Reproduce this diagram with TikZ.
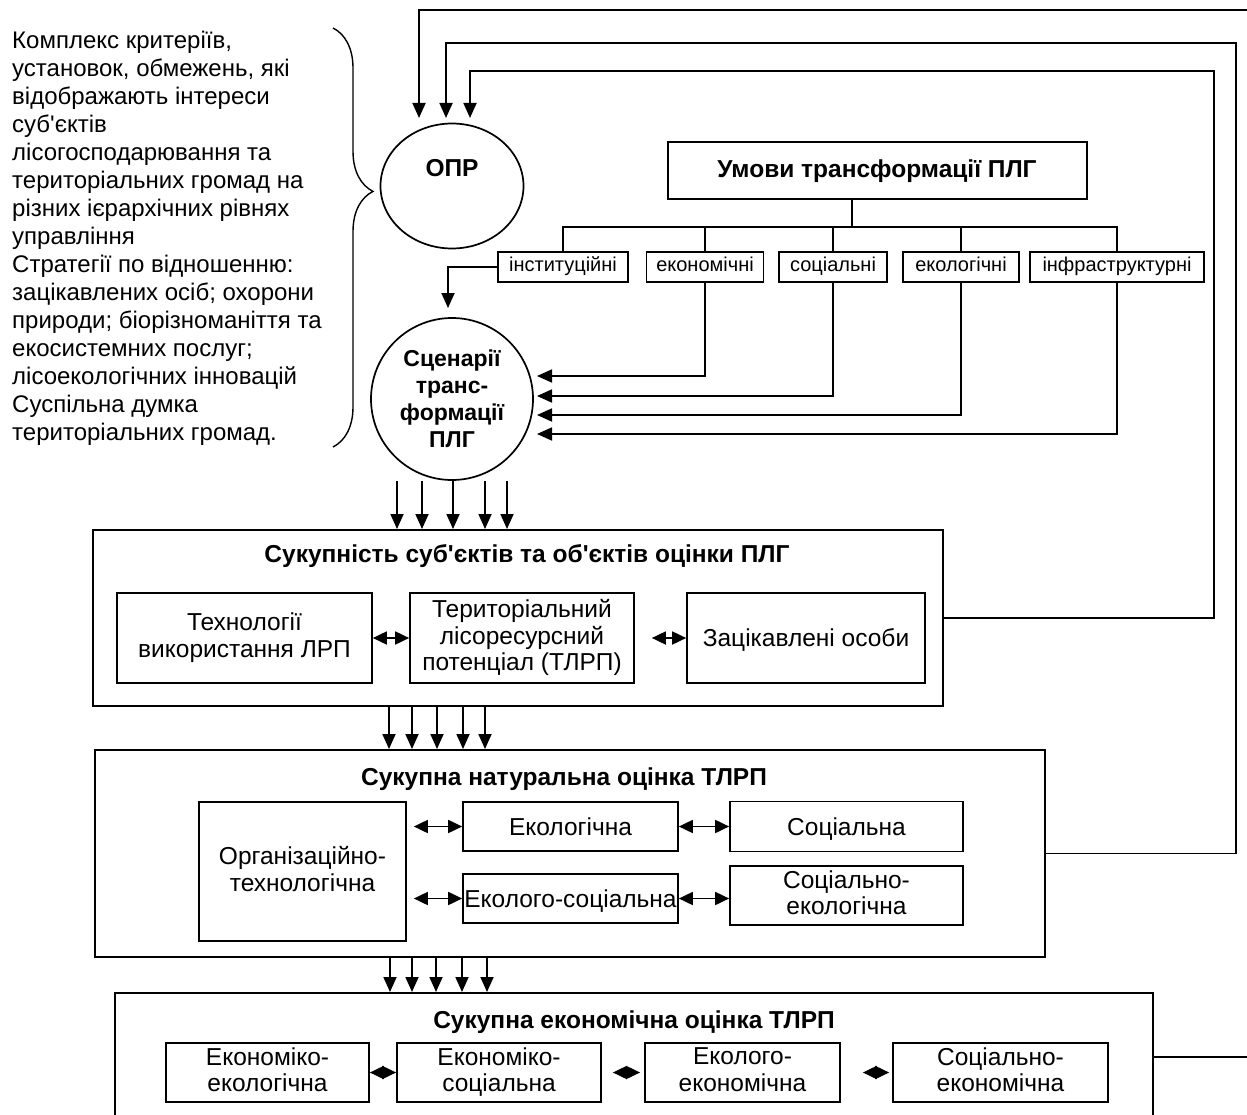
\documentclass[tikz,border=0pt]{standalone}
\usepackage{fontspec}
\setmainfont{Liberation Sans}
\usetikzlibrary{arrows.meta,positioning,shapes.geometric,decorations.pathreplacing,calc}
\newcommand{\apos}{\textquotesingle}
\newcommand{\bxstrut}{\rule[-0.23em]{0pt}{1.18em}}
\tikzset{
  >={Triangle[length=15pt,width=13pt]},
  blk/.style={draw, line width=2pt, inner sep=0pt},
  box/.style={draw, line width=1.7pt, align=center, inner sep=1pt,
              font=\fontsize{24.5}{26.5}\selectfont,
              execute at begin node=\bxstrut, execute at end node=\bxstrut},
  tag/.style={draw, line width=1.7pt, inner sep=0pt, minimum height=30pt,
              text height=14.5pt, text depth=4.5pt,
              font=\fontsize{20}{22}\selectfont},
  ttl/.style={font=\fontsize{24.5}{27}\selectfont\bfseries, inner sep=0pt, align=center},
  flow/.style={->, line width=1.8pt},
  dbl/.style={{Triangle[length=14pt,width=13pt]}-{Triangle[length=14pt,width=13pt]},
              line width=1.8pt},
  ln/.style={line width=1.8pt},
}

\begin{document}
\begin{tikzpicture}[x=1pt,y=-1pt]
\useasboundingbox (0,0) rectangle (1247,1115);
\clip (0,0) rectangle (1247,1115);

% notes on the left
\node[anchor=north west, align=left, inner sep=0pt,
      font=\fontsize{24}{28}\selectfont] (notes) at (12,31)
  {Комплекс критеріїв,\\
   установок, обмежень, які\\
   відображають інтереси\\
   суб\apos єктів\\
   лісогосподарювання та\\
   територіальних громад на\\
   різних ієрархічних рівнях\\
   управління\\
   Стратегії по відношенню:\\
   зацікавлених осіб; охорони\\
   природи; біорізноманіття та\\
   екосистемних послуг;\\
   лісоекологічних інновацій\\
   Суспільна думка\\
   територіальних громад.};
\draw[line width=1.4pt, decorate, decoration={brace, amplitude=40pt, aspect=0.39}]
  (333,28) -- (333,447);

% decision maker
\node[ellipse, draw, line width=1.7pt, minimum width=143pt, minimum height=125pt,
      inner sep=0pt] (opr) at (452,186) {};
\node[ttl] (oprt) at ([yshift=18pt]opr.center) {ОПР};

% conditions
\node[draw, line width=2pt, minimum width=419pt, minimum height=57pt, ttl]
  (umov) at (877,171) {Умови трансформації ПЛГ};
\node[tag, minimum width=130pt] (inst) at (563,267) {інституційні};
\node[tag, minimum width=117pt] (econ) at (705,267) {економічні};
\node[tag, minimum width=108pt] (soc)  at (833,267) {соціальні};
\node[tag, minimum width=116pt] (ecol) at (961,267) {екологічні};
\node[tag, minimum width=174pt] (infr) at (1117,267) {інфраструктурні};

\coordinate (bus) at (852,227);
\draw[ln] ([xshift=-25pt]umov.south) -- (bus);
\draw[ln] (inst.north) |- (bus) -| (infr.north);
\foreach \n in {econ,soc,ecol}
  \draw[ln] (\n.north) -- (\n.north |- bus);

% scenarios
\node[circle, draw, line width=1.7pt, minimum size=162pt, ttl,
      font=\fontsize{23}{27}\selectfont\bfseries]
  (scen) at (452,399) {Сценарії\\транс-\\формації\\ПЛГ};
\coordinate (scin) at (448,308);
\draw[flow] (inst.west) -| (scin);
\coordinate (scr) at (537,0);
\foreach \n/\y in {econ/376,soc/396,ecol/415,infr/434}
  \draw[flow] (\n.south) |- (scr |- 0,\y);

% subjects and objects
\node[blk, minimum width=850pt, minimum height=176pt] (tot) at (518,618) {};
\node[ttl] (totl) at ([xshift=9pt,yshift=-27pt]tot.north)
  {Сукупність суб\apos єктів та об\apos єктів оцінки ПЛГ};
\node[box, minimum width=255pt, minimum height=90pt] (tech) at (244.5,638)
  {Технології\\використання ЛРП};
\node[box, minimum width=224pt, minimum height=90pt] (terr) at (522,638)
  {Територіальний\\лісоресурсний\\потенціал (ТЛРП)};
\node[box, minimum width=238pt, minimum height=90pt] (zac) at (806,638)
  {Зацікавлені особи};
\draw[dbl] (tech) -- (terr);
\draw[dbl, shorten <=17pt] (terr) -- (zac);

\foreach \dx in {-55,-30,1,33,55}{
  \coordinate (s) at ([xshift=\dx pt]scen.south);
  \draw[flow] (s) -- (s |- tot.north);
}

% natural assessment
\node[blk, minimum width=950pt, minimum height=207pt] (nat) at (570,853.5) {};
\node[ttl] (natl) at ([xshift=-6pt,yshift=-30pt]nat.north)
  {Сукупна натуральна оцінка ТЛРП};
\node[box, minimum width=207pt, minimum height=139pt] (org) at (302.5,871.5)
  {Організаційно-\\технологічна};
\node[box, minimum width=215pt, minimum height=49pt] (ekl) at (570.5,826.5) {Екологічна};
\node[box, minimum width=233pt, minimum height=50pt] (scl) at (846.5,826.5) {Соціальна};
\node[box, minimum width=215pt, minimum height=49pt, inner sep=0pt] (eks) at (570.5,898.5)
  {Еколого-соціальна};
\node[box, minimum width=233pt, minimum height=59pt] (sce) at (846.5,895.5)
  {Соціально-\\екологічна};
\draw[dbl, shorten <=7pt] (org.east |- ekl.west) -- (ekl.west);
\draw[dbl] (ekl) -- (scl);
\draw[dbl, shorten <=7pt] (org.east |- eks.west) -- (eks.west);
\draw[dbl] (eks.east) -- (eks.east -| sce.west);

\foreach \x in {389,412,437,463,485}
  \draw[flow] (\x,0 |- tot.south) -- (\x,0 |- nat.north);

% economic assessment
\node[blk, minimum width=1038pt, minimum height=128pt] (eco) at (634,1057) {};
\node[ttl] (ecot) at ([yshift=-30pt]eco.north) {Сукупна економічна оцінка ТЛРП};
\tikzset{box/.append style={font=\fontsize{24.5}{26.5}\selectfont, inner sep=0pt}}
\node[box, minimum width=203pt, minimum height=59pt] (ee) at (267.5,1072.5)
  {Економіко-\\екологічна};
\node[box, minimum width=204pt, minimum height=59pt] (es) at (499,1072.5)
  {Економіко-\\соціальна};
\node[box, minimum width=195pt, minimum height=59pt] (eec) at (742.5,1072.5)
  {Еколого-\\економічна};
\node[box, minimum width=215pt, minimum height=59pt] (se) at (1000.5,1072.5)
  {Соціально-\\економічна};
\draw[dbl] (ee) -- (es);
\draw[dbl, shorten <=11pt, shorten >=4pt] (es) -- (eec);
\draw[dbl, shorten <=22pt, shorten >=3pt] (eec) -- (se);

\foreach \x in {390,412,436,462,487}
  \draw[flow] (\x,0 |- nat.south) -- (\x,0 |- eco.north);

% feedback to the decision maker
\coordinate (r3) at (1214,71);  \coordinate (in3) at (470,118);
\coordinate (r2) at (1236,43);  \coordinate (in2) at (446,118);
\coordinate (r1) at (1260,10);  \coordinate (in1) at (419,118);
\draw[flow] (tot.east) -| (r3) -| (in3);
\draw[flow] (nat.east) -| (r2) -| (in2);
\draw[flow] (eco.east) -| (r1) -| (in1);
\end{tikzpicture}
\end{document}
